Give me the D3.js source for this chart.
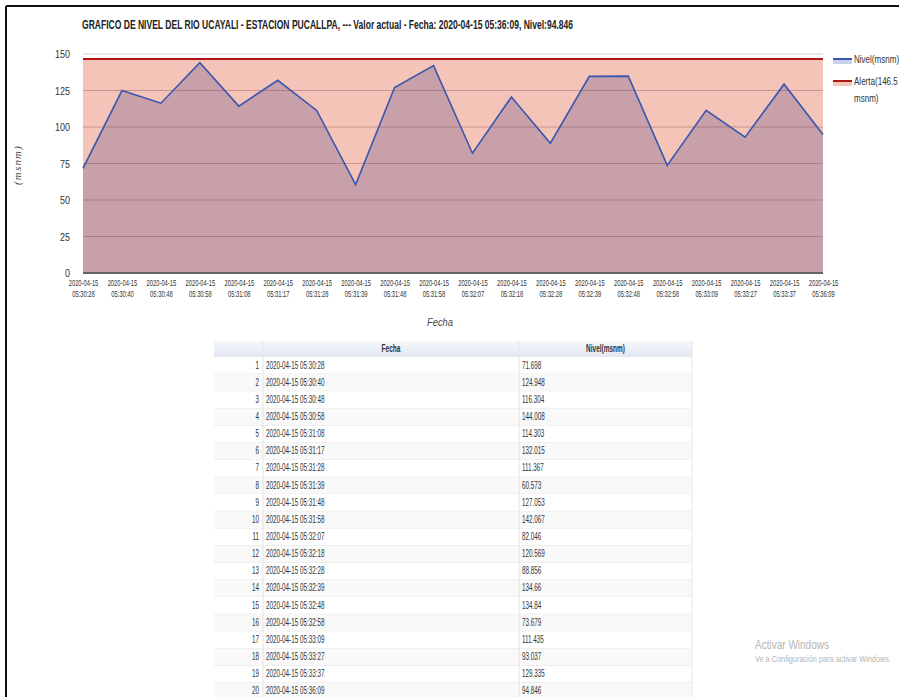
<!DOCTYPE html>
<html lang="es">
<head>
<meta charset="UTF-8">
<title>Nivel del rio Ucayali</title>
<style>
  * { margin: 0; padding: 0; box-sizing: border-box; }
  body { background: #fff; width: 899px; height: 697px; overflow: hidden; }
  svg { display: block; font-family: 'Liberation Sans', Arial, sans-serif; }
</style>
</head>
<body>
<div id="chart"></div>
<script src="https://d3js.org/d3.v7.min.js"></script>
<script>
// data
const fechas = [
  "2020-04-15 05:30:28", "2020-04-15 05:30:40", "2020-04-15 05:30:48", "2020-04-15 05:30:58",
  "2020-04-15 05:31:08", "2020-04-15 05:31:17", "2020-04-15 05:31:28", "2020-04-15 05:31:39",
  "2020-04-15 05:31:48", "2020-04-15 05:31:58", "2020-04-15 05:32:07", "2020-04-15 05:32:18",
  "2020-04-15 05:32:28", "2020-04-15 05:32:39", "2020-04-15 05:32:48", "2020-04-15 05:32:58",
  "2020-04-15 05:33:09", "2020-04-15 05:33:27", "2020-04-15 05:33:37", "2020-04-15 05:36:09"
];
const nivel = [
  71.698, 124.948, 116.304, 144.008, 114.303, 132.015, 111.367, 60.573, 127.053, 142.067,
  82.046, 120.569, 88.856, 134.66, 134.84, 73.679, 111.435, 93.037, 129.335, 94.846
];
const nivelTexto = [
  "71.698", "124.948", "116.304", "144.008", "114.303", "132.015", "111.367", "60.573", "127.053", "142.067",
  "82.046", "120.569", "88.856", "134.66", "134.84", "73.679", "111.435", "93.037", "129.335", "94.846"
];
const alerta = 146.5;
const yTicks = [0, 25, 50, 75, 100, 125, 150];
const titulo = "GRAFICO DE NIVEL DEL RIO UCAYALI - ESTACION PUCALLPA, --- Valor actual - Fecha: 2020-04-15 05:36:09, Nivel:94.846";

const W = 899, H = 697;
const svg = d3.select("#chart").append("svg")
  .attr("width", W).attr("height", H);

// the screenshot is squeezed sideways, so text gets a horizontal scale
function narrowText(parent, x, y, sx) {
  return parent.append("text").attr("transform", `translate(${x},${y}) scale(${sx},1)`);
}

// frame
svg.append("line").attr("x1", 6).attr("x2", W).attr("y1", 6).attr("y2", 6)
  .attr("stroke", "#111").attr("stroke-width", 2);
svg.append("line").attr("x1", 6).attr("x2", 6).attr("y1", 6).attr("y2", H)
  .attr("stroke", "#111").attr("stroke-width", 2);

// title
svg.append("text")
  .attr("x", 82).attr("y", 29)
  .attr("font-size", 12).attr("font-weight", "bold").attr("fill", "#222")
  .attr("textLength", 491).attr("lengthAdjust", "spacingAndGlyphs")
  .text(titulo);

const plot = { left: 83, right: 823, top: 54, bottom: 273 };

const x = d3.scalePoint().domain(fechas).range([plot.left, plot.right]);
const y = d3.scaleLinear().domain([0, 150]).range([plot.bottom, plot.top]);

const pts = fechas.map((f, i) => ({ f, v: nivel[i] }));

// top gridline (150)
svg.append("line")
  .attr("x1", plot.left).attr("x2", plot.right)
  .attr("y1", y(150)).attr("y2", y(150))
  .attr("stroke", "#cfcfcf").attr("stroke-width", 1);

// alert area
svg.append("path")
  .datum(pts)
  .attr("fill", "#f4c4b8")
  .attr("d", d3.area().x(d => x(d.f)).y0(y(0)).y1(y(alerta)));

// nivel area
svg.append("path")
  .datum(pts)
  .attr("fill", "#c8a0aa")
  .attr("d", d3.area().x(d => x(d.f)).y0(y(0)).y1(d => y(d.v)));

// gridlines over the areas
svg.append("g")
  .selectAll("line")
  .data(yTicks.filter(t => t > 0 && t < 150))
  .join("line")
  .attr("x1", plot.left).attr("x2", plot.right)
  .attr("y1", d => y(d)).attr("y2", d => y(d))
  .attr("stroke", "rgba(120,60,70,0.35)").attr("stroke-width", 1.2);

// alert line
svg.append("line")
  .attr("x1", plot.left).attr("x2", plot.right)
  .attr("y1", y(alerta)).attr("y2", y(alerta))
  .attr("stroke", "#b01515").attr("stroke-width", 2);

// nivel line
svg.append("path")
  .datum(pts)
  .attr("fill", "none")
  .attr("stroke", "#3a56ad")
  .attr("stroke-width", 1.6)
  .attr("d", d3.line().x(d => x(d.f)).y(d => y(d.v)));

// baseline
svg.append("line")
  .attr("x1", plot.left).attr("x2", plot.right)
  .attr("y1", y(0)).attr("y2", y(0))
  .attr("stroke", "#666").attr("stroke-width", 2);

// y axis
const yAxis = svg.append("g")
  .attr("transform", `translate(${plot.left - 13},0)`)
  .call(d3.axisLeft(y).tickValues(yTicks).tickSize(0).tickPadding(0));
yAxis.select(".domain").remove();
yAxis.selectAll("text")
  .attr("font-size", 11.5).attr("fill", "#333")
  .attr("transform", "scale(0.78,1)");

// x axis
const xAxis = svg.append("g")
  .attr("transform", `translate(0,${plot.bottom})`)
  .call(d3.axisBottom(x).tickSize(0).tickFormat(""));
xAxis.select(".domain").remove();
xAxis.selectAll(".tick").each(function (d) {
  const parts = d.split(" ");
  const t = d3.select(this).append("text")
    .attr("text-anchor", "middle").attr("fill", "#333").attr("font-size", 8.8)
    .attr("transform", "scale(0.66,1)");
  t.append("tspan").attr("x", 0).attr("y", 13).text(parts[0]);
  t.append("tspan").attr("x", 0).attr("y", 24).text(parts[1]);
});

// axis titles
svg.append("text")
  .attr("transform", "translate(21,165) rotate(-90)")
  .attr("text-anchor", "middle")
  .attr("font-family", "'Liberation Serif', serif")
  .attr("font-style", "italic").attr("font-size", 11).attr("letter-spacing", 1.2)
  .attr("fill", "#444")
  .text("(msnm)");
narrowText(svg, 440, 326, 0.85)
  .attr("text-anchor", "middle")
  .attr("font-style", "italic").attr("font-size", 11).attr("fill", "#444")
  .text("Fecha");

// legend
const legend = [
  { lbl: ["Nivel(msnm)"], line: "#3a56ad", fill: "#c5d3ee", y: 59 },
  { lbl: ["Alerta(146.5", "msnm)"], line: "#b01515", fill: "#f4c4b8", y: 81 }
];
const lg = svg.append("g").selectAll("g").data(legend).join("g")
  .attr("transform", d => `translate(833,${d.y})`);
lg.append("rect").attr("x", 0).attr("y", 0).attr("width", 19).attr("height", 5).attr("fill", d => d.fill);
lg.append("line").attr("x1", 0).attr("x2", 19).attr("y1", 0).attr("y2", 0)
  .attr("stroke", d => d.line).attr("stroke-width", 2);
lg.each(function (d) {
  d.lbl.forEach((s, i) => narrowText(d3.select(this), 21, 4 + i * 17, 0.7)
    .attr("font-size", 11.5).attr("fill", "#333").text(s));
});

// table
const tbl = { left: 214, c1: 263, c2: 519, right: 692, headTop: 341, headBottom: 357 };
const rowIdx = fechas.map((f, i) => i);
const r = d3.scaleBand().domain(rowIdx).range([tbl.headBottom, tbl.headBottom + 20 * 17.15]);

const defs = svg.append("defs");
const grad = defs.append("linearGradient").attr("id", "hdr").attr("x1", 0).attr("x2", 0).attr("y1", 0).attr("y2", 1);
grad.append("stop").attr("offset", "0%").attr("stop-color", "#f5f7fb");
grad.append("stop").attr("offset", "100%").attr("stop-color", "#e2e7f2");

svg.append("rect")
  .attr("x", tbl.left).attr("y", tbl.headTop)
  .attr("width", tbl.right - tbl.left).attr("height", tbl.headBottom - tbl.headTop)
  .attr("fill", "url(#hdr)");

const rows = svg.append("g").selectAll("g").data(rowIdx).join("g")
  .attr("transform", d => `translate(0,${r(d)})`);
rows.append("rect")
  .attr("x", tbl.left).attr("width", tbl.right - tbl.left).attr("height", r.bandwidth())
  .attr("fill", d => d % 2 ? "#f9f9f9" : "#ffffff");
rows.append("line")
  .attr("x1", tbl.left).attr("x2", tbl.right)
  .attr("y1", r.bandwidth()).attr("y2", r.bandwidth())
  .attr("stroke", "#e6e6e6");
rows.each(function (d) {
  const g = d3.select(this);
  narrowText(g, tbl.c1 - 4, 11.5, 0.6).attr("text-anchor", "end")
    .attr("font-size", 10.5).attr("fill", "#333").text(d + 1);
  narrowText(g, tbl.c1 + 3, 11.5, 0.6)
    .attr("font-size", 10.5).attr("fill", "#333").text(fechas[d]);
  narrowText(g, tbl.c2 + 3, 11.5, 0.6)
    .attr("font-size", 10.5).attr("fill", "#333").text(nivelTexto[d]);
});

svg.append("line").attr("x1", tbl.c1).attr("x2", tbl.c1).attr("y1", tbl.headTop).attr("y2", H)
  .attr("stroke", "#e4e4e4");
svg.append("line").attr("x1", tbl.c2).attr("x2", tbl.c2).attr("y1", tbl.headTop).attr("y2", H)
  .attr("stroke", "#e4e4e4");
svg.append("line").attr("x1", tbl.right).attr("x2", tbl.right).attr("y1", tbl.headTop).attr("y2", H)
  .attr("stroke", "#e8e8e8");

narrowText(svg, (tbl.c1 + tbl.c2) / 2, 352, 0.65)
  .attr("text-anchor", "middle").attr("font-size", 10).attr("font-weight", "bold").attr("fill", "#333")
  .text("Fecha");
narrowText(svg, (tbl.c2 + tbl.right) / 2, 352, 0.65)
  .attr("text-anchor", "middle").attr("font-size", 10).attr("font-weight", "bold").attr("fill", "#333")
  .text("Nivel(msnm)");

// windows watermark
svg.append("text").attr("x", 755).attr("y", 649)
  .attr("font-size", 12.5).attr("fill", "#b5b5b5")
  .attr("textLength", 74).attr("lengthAdjust", "spacingAndGlyphs")
  .text("Activar Windows");
svg.append("text").attr("x", 755).attr("y", 662)
  .attr("font-size", 8.5).attr("fill", "#b5b5b5")
  .attr("textLength", 136).attr("lengthAdjust", "spacingAndGlyphs")
  .text("Ve a Configuración para activar Windows.");
</script>
</body>
</html>
